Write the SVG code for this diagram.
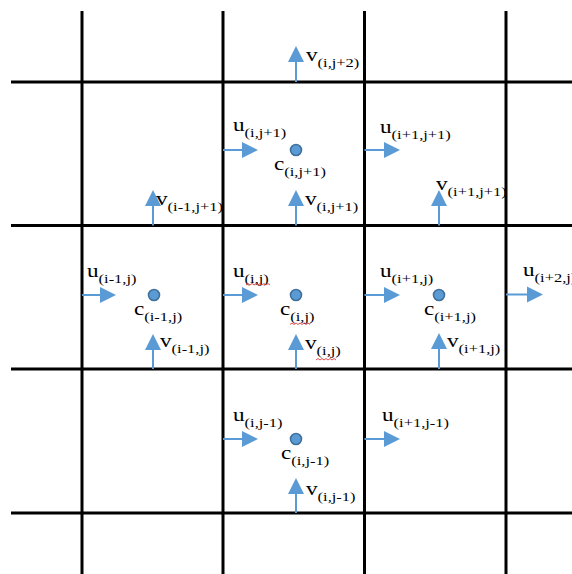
<svg xmlns="http://www.w3.org/2000/svg" width="572" height="574" viewBox="0 0 572 574">
<defs>
<style>
.grid line{stroke:#000;stroke-width:3}
.ar line{stroke:#5B9BD5;stroke-width:2}
.ar polygon{fill:#5B9BD5}
.c circle{fill:#5B9BD5;stroke:#41719C;stroke-width:1.6}
text{font-family:"Liberation Serif","Times New Roman",serif;font-size:19px;fill:#000}
tspan{font-size:13.5px}
.sq{fill:none;stroke:#E02020;stroke-width:0.8}
</style>
</defs>
<rect width="572" height="574" fill="#fff"/>
<g id="grid" class="grid">
<line x1="82" y1="11" x2="82" y2="574"/>
<line x1="223" y1="11" x2="223" y2="574"/>
<line x1="364.5" y1="11" x2="364.5" y2="574"/>
<line x1="506" y1="11" x2="506" y2="574"/>
<line x1="11" y1="82" x2="572" y2="82"/>
<line x1="11" y1="225.5" x2="572" y2="225.5"/>
<line x1="11" y1="369" x2="572" y2="369"/>
<line x1="11" y1="513" x2="572" y2="513"/>
</g>
<g id="connectors" class="ar">
<!-- u arrows -->
<line x1="223" y1="150" x2="244" y2="150"/><polygon points="258,150 242,142 242,158"/>
<line x1="364.5" y1="150" x2="386" y2="150"/><polygon points="400,150 384,142 384,158"/>
<line x1="82" y1="295" x2="102" y2="295"/><polygon points="116,295 100,287 100,303"/>
<line x1="223" y1="295" x2="244" y2="295"/><polygon points="258,295 242,287 242,303"/>
<line x1="364.5" y1="295" x2="386" y2="295"/><polygon points="400,295 384,287 384,303"/>
<line x1="506" y1="294.5" x2="529" y2="294.5"/><polygon points="543,294.5 527,286.5 527,302.5"/>
<line x1="223" y1="439" x2="244" y2="439"/><polygon points="258,439 242,431 242,447"/>
<line x1="364.5" y1="439" x2="386" y2="439"/><polygon points="400,439 384,431 384,447"/>
<!-- v arrows -->
<line x1="296" y1="82" x2="296" y2="60"/><polygon points="296,46 288,62 304,62"/>
<line x1="153" y1="225.5" x2="153" y2="204"/><polygon points="153,190 145,206 161,206"/>
<line x1="296" y1="225.5" x2="296" y2="204"/><polygon points="296,190 288,206 304,206"/>
<line x1="439" y1="225.5" x2="439" y2="204"/><polygon points="439,190 431,206 447,206"/>
<line x1="153" y1="369" x2="153" y2="348"/><polygon points="153,334 145,350 161,350"/>
<line x1="296" y1="369" x2="296" y2="348"/><polygon points="296,334 288,350 304,350"/>
<line x1="439" y1="369" x2="439" y2="347"/><polygon points="439,333 431,349 447,349"/>
<line x1="296" y1="513" x2="296" y2="492"/><polygon points="296,478 288,494 304,494"/>
</g>
<g id="c_i_jp1" class="c"><circle cx="296" cy="150" r="5.5"/><text transform="translate(274,170) scale(1.22,1)">c<tspan dy="5.5">(i,j+1)</tspan></text></g>
<g id="c_im1_j" class="c"><circle cx="154" cy="295" r="5.5"/><text transform="translate(134,315) scale(1.22,1)">c<tspan dy="5.5">(i-1,j)</tspan></text></g>
<g id="c_i_j" class="c"><circle cx="296" cy="295" r="5.5"/><text transform="translate(280,315) scale(1.22,1)">c<tspan dy="5.5">(i,j)</tspan></text></g>
<g id="c_ip1_j" class="c"><circle cx="439" cy="295" r="5.5"/><text transform="translate(424,315) scale(1.22,1)">c<tspan dy="5.5">(i+1,j)</tspan></text></g>
<g id="c_i_jm1" class="c"><circle cx="296" cy="439" r="5.5"/><text transform="translate(281,459) scale(1.22,1)">c<tspan dy="5.5">(i,j-1)</tspan></text></g>
<g id="u_i_jp1"><text transform="translate(233,131) scale(1.22,1)">u<tspan dy="5.5">(i,j+1)</tspan></text></g>
<g id="u_ip1_jp1"><text transform="translate(380,133) scale(1.22,1)">u<tspan dy="5.5">(i+1,j+1)</tspan></text></g>
<g id="u_im1_j"><text transform="translate(87,277) scale(1.22,1)">u<tspan dy="5.5">(i-1,j)</tspan></text></g>
<g id="u_i_j"><text transform="translate(233,277) scale(1.22,1)">u<tspan dy="5.5">(i,j)</tspan></text></g>
<g id="u_ip1_j"><text transform="translate(380,277) scale(1.22,1)">u<tspan dy="5.5">(i+1,j)</tspan></text></g>
<g id="u_ip2_j"><text transform="translate(523,276) scale(1.22,1)">u<tspan dy="5.5">(i+2,j)</tspan></text></g>
<g id="u_i_jm1"><text transform="translate(233,421) scale(1.22,1)">u<tspan dy="5.5">(i,j-1)</tspan></text></g>
<g id="u_ip1_jm1"><text transform="translate(382,421) scale(1.22,1)">u<tspan dy="5.5">(i+1,j-1)</tspan></text></g>
<g id="v_i_jp2"><text transform="translate(306,61) scale(1.22,1)">v<tspan dy="5.5">(i,j+2)</tspan></text></g>
<g id="v_im1_jp1"><text transform="translate(156,205) scale(1.22,1)">v<tspan dy="5.5">(i-1,j+1)</tspan></text></g>
<g id="v_i_jp1"><text transform="translate(305,205) scale(1.22,1)">v<tspan dy="5.5">(i,j+1)</tspan></text></g>
<g id="v_ip1_jp1"><text transform="translate(436,190) scale(1.22,1)">v<tspan dy="5.5">(i+1,j+1)</tspan></text></g>
<g id="v_im1_j"><text transform="translate(160,347) scale(1.22,1)">v<tspan dy="5.5">(i-1,j)</tspan></text></g>
<g id="v_i_j"><text transform="translate(305,349) scale(1.22,1)">v<tspan dy="5.5">(i,j)</tspan></text></g>
<g id="v_ip1_j"><text transform="translate(447,347) scale(1.22,1)">v<tspan dy="5.5">(i+1,j)</tspan></text></g>
<g id="v_i_jm1"><text transform="translate(306,495) scale(1.22,1)">v<tspan dy="5.5">(i,j-1)</tspan></text></g>
<g id="squiggles" class="sq">
<path d="M246,285 l2,-1.5 l2,1.5 l2,-1.5 l2,1.5 l2,-1.5 l2,1.5 l2,-1.5 l2,1.5 l2,-1.5 l2,1.5 l2,-1.5 l2,1.5"/>
<path d="M290,324.5 l2,-1.5 l2,1.5 l2,-1.5 l2,1.5 l2,-1.5 l2,1.5 l2,-1.5 l2,1.5 l2,-1.5 l2,1.5"/>
<path d="M316,360 l2,-1.5 l2,1.5 l2,-1.5 l2,1.5 l2,-1.5 l2,1.5 l2,-1.5 l2,1.5 l2,-1.5 l2,1.5"/>
</g>
</svg>
